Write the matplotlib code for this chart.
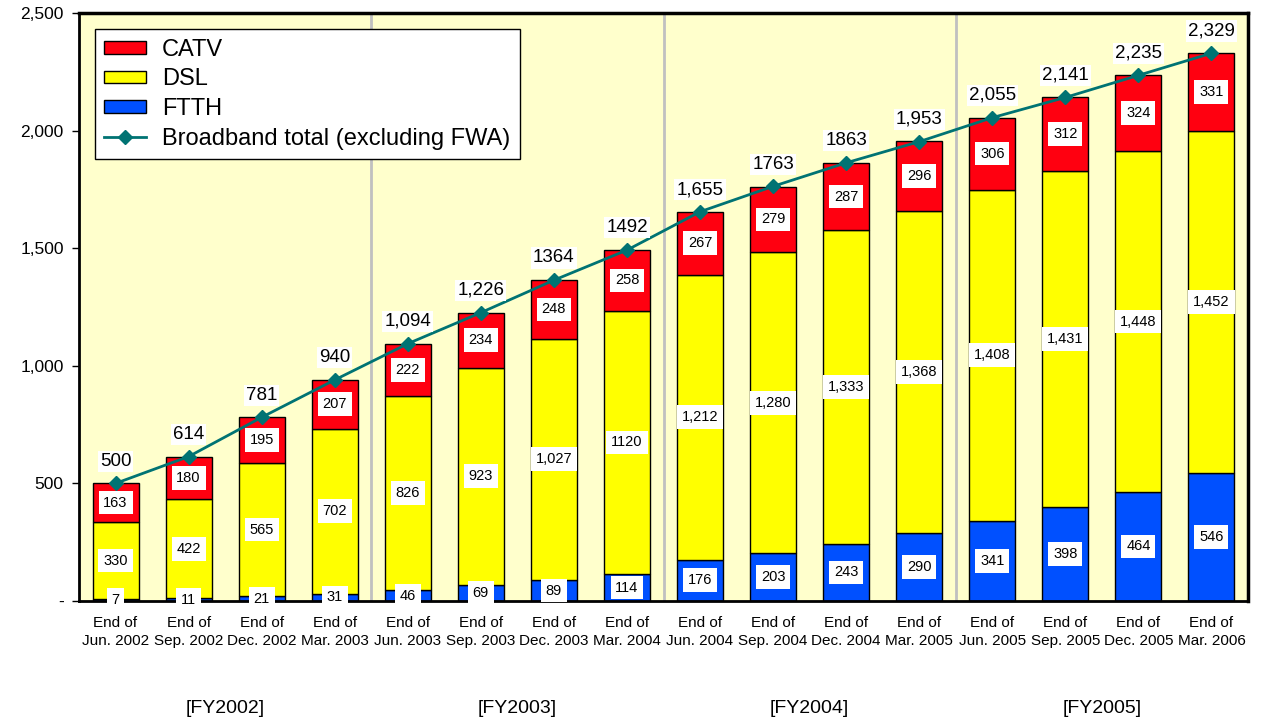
import matplotlib
matplotlib.use('Agg')

import numpy as np
import matplotlib.pyplot as plt

plt.rcParams['font.family'] = ['Liberation Sans', 'DejaVu Sans']

# Data (thousands of subscribers)
periods = ["End of\nJun. 2002", "End of\nSep. 2002", "End of\nDec. 2002", "End of\nMar. 2003",
           "End of\nJun. 2003", "End of\nSep. 2003", "End of\nDec. 2003", "End of\nMar. 2004",
           "End of\nJun. 2004", "End of\nSep. 2004", "End of\nDec. 2004", "End of\nMar. 2005",
           "End of\nJun. 2005", "End of\nSep. 2005", "End of\nDec. 2005", "End of\nMar. 2006"]
ftth = [7, 11, 21, 31, 46, 69, 89, 114, 176, 203, 243, 290, 341, 398, 464, 546]
dsl = [330, 422, 565, 702, 826, 923, 1027, 1120, 1212, 1280, 1333, 1368, 1408, 1431, 1448, 1452]
catv = [163, 180, 195, 207, 222, 234, 248, 258, 267, 279, 287, 296, 306, 312, 324, 331]
total = [500, 614, 781, 940, 1094, 1226, 1364, 1492, 1655, 1763, 1863, 1953, 2055, 2141, 2235, 2329]
total_labels = ["500", "614", "781", "940", "1,094", "1,226", "1364", "1492",
                "1,655", "1763", "1863", "1,953", "2,055", "2,141", "2,235", "2,329"]
dsl_labels = ["330", "422", "565", "702", "826", "923", "1,027", "1120",
              "1,212", "1,280", "1,333", "1,368", "1,408", "1,431", "1,448", "1,452"]
fy_labels = ["[FY2002]", "[FY2003]", "[FY2004]", "[FY2005]"]
yticks = [0, 500, 1000, 1500, 2000, 2500]
ytick_labels = ["-", "500", "1,000", "1,500", "2,000", "2,500"]

c_catv = '#FF0010'
c_dsl = '#FFFF00'
c_ftth = '#0050FF'
c_line = '#007373'

fig = plt.figure(figsize=(12.68, 7.26), dpi=100)
ax = fig.add_axes([79 / 1268, 1 - 601 / 726, (1248 - 79) / 1268, (601 - 13) / 726])
ax.set_facecolor('#FFFFCC')

x = np.arange(len(periods))
w = 0.63
ftth_a = np.array(ftth)
dsl_a = np.array(dsl)
catv_a = np.array(catv)

# FY separators
for sx in [3.5, 7.5, 11.5]:
    ax.axvline(sx, color='#C0C0C0', lw=2, zorder=1)

h_ftth = ax.bar(x, ftth_a, w, color=c_ftth, edgecolor='black', lw=1, zorder=2)
h_dsl = ax.bar(x, dsl_a, w, bottom=ftth_a, color=c_dsl, edgecolor='black', lw=1, zorder=2)
h_catv = ax.bar(x, catv_a, w, bottom=ftth_a + dsl_a, color=c_catv, edgecolor='black', lw=1,
                zorder=2)
h_tot, = ax.plot(x, total, color=c_line, lw=2, marker='D', ms=7, zorder=4)

box = dict(facecolor='white', edgecolor='none', pad=3.5)
for i in range(len(x)):
    ax.text(x[i], ftth[i] / 2, str(ftth[i]), ha='center', va='center', fontsize=10.5,
            bbox=box, zorder=3)
    ax.text(x[i], ftth[i] + dsl[i] / 2, dsl_labels[i], ha='center', va='center',
            fontsize=10.5, bbox=box, zorder=3)
    ax.text(x[i], ftth[i] + dsl[i] + catv[i] / 2, str(catv[i]), ha='center', va='center',
            fontsize=10.5, bbox=box, zorder=3)
    ax.annotate(total_labels[i], (x[i], total[i]), xytext=(0, 16), textcoords='offset points',
                ha='center', va='center', fontsize=13.5,
                bbox=dict(facecolor='white', edgecolor='none', pad=1.5), zorder=5)

ax.set_xlim(-0.5, len(x) - 0.5)
ax.set_ylim(0, 2500)
ax.set_yticks(yticks)
ax.set_yticklabels(ytick_labels, fontsize=12.5)
ax.tick_params(axis='y', direction='out', length=5, width=1, pad=6)
ax.set_xticks(x)
ax.set_xticklabels(periods, fontsize=11, linespacing=1.3)
ax.tick_params(axis='x', length=0, pad=11)

for side in ['left', 'bottom']:
    ax.spines[side].set_linewidth(2)
for side in ['top', 'right']:
    ax.spines[side].set_linewidth(2.5)

for k, lab in enumerate(fy_labels):
    ax.text(4 * k + 1.5, -458, lab, ha='center', va='center', fontsize=14)

leg = ax.legend([h_catv, h_dsl, h_ftth, h_tot],
                ['CATV', 'DSL', 'FTTH', 'Broadband total (excluding FWA)'],
                loc='upper left', bbox_to_anchor=(0.0135, 0.972), fontsize=17,
                frameon=True, fancybox=False, edgecolor='black', framealpha=1,
                handlelength=1.75, handleheight=0.42, labelspacing=0.32, borderpad=0.4,
                handletextpad=0.7, borderaxespad=0)
leg.get_frame().set_linewidth(1)

fig.savefig('out.png', dpi=100)
